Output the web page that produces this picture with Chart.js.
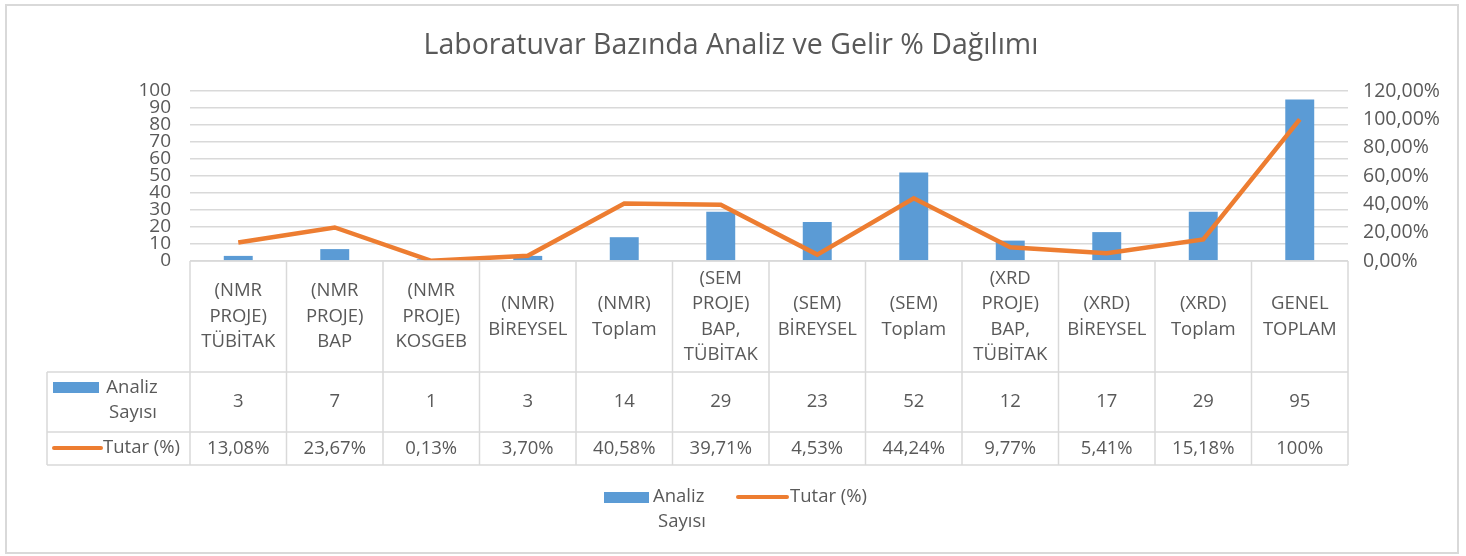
<!DOCTYPE html>
<html>
<head>
<meta charset="utf-8">
<script src="https://cdn.jsdelivr.net/npm/chart.js@4"></script>
<style>
  body { margin: 0; background: #fff; }
</style>
</head>
<body>
<canvas id="myChart" width="1466" height="556"></canvas>
<script>
// Chart data
const categories = [
  ['(NMR', 'PROJE)', 'TÜBİTAK'],
  ['(NMR', 'PROJE)', 'BAP'],
  ['(NMR', 'PROJE)', 'KOSGEB'],
  ['(NMR)', 'BİREYSEL'],
  ['(NMR)', 'Toplam'],
  ['(SEM', 'PROJE)', 'BAP,', 'TÜBİTAK'],
  ['(SEM)', 'BİREYSEL'],
  ['(SEM)', 'Toplam'],
  ['(XRD', 'PROJE)', 'BAP,', 'TÜBİTAK'],
  ['(XRD)', 'BİREYSEL'],
  ['(XRD)', 'Toplam'],
  ['GENEL', 'TOPLAM']
];
const analizSayisi = [3, 7, 1, 3, 14, 29, 23, 52, 12, 17, 29, 95];
const tutarYuzde = [13.08, 23.67, 0.13, 3.70, 40.58, 39.71, 4.53, 44.24, 9.77, 5.41, 15.18, 100];
const tutarLabels = ['13,08%', '23,67%', '0,13%', '3,70%', '40,58%', '39,71%', '4,53%', '44,24%', '9,77%', '5,41%', '15,18%', '100%'];
const leftTicks = { min: 0, max: 100, step: 10 };
const rightTicks = { min: 0, max: 120, step: 20 };

const chartTitle = 'Laboratuvar Bazında Analiz ve Gelir % Dağılımı';
const BLUE = '#5b9bd5';
const ORANGE = '#ed7d31';
const TEXT = '#595959';
const GRID = '#d9d9d9';
const FONT = '"Open Sans", sans-serif';

// Draws title, outer frame, data table and legend
const tablePlugin = {
  id: 'dataTable',
  beforeDraw(chart) {
    const ctx = chart.ctx;
    ctx.save();
    ctx.fillStyle = '#fff';
    ctx.fillRect(0, 0, chart.width, chart.height);
    ctx.strokeStyle = GRID;
    ctx.lineWidth = 2;
    ctx.strokeRect(6, 5, 1452, 548);
    ctx.restore();
  },
  afterDraw(chart) {
    const ctx = chart.ctx;
    const area = chart.chartArea;
    const n = categories.length;
    const colW = (area.right - area.left) / n;
    const top = area.bottom;
    const headBottom = top + 111;
    const row1Bottom = headBottom + 60;
    const row2Bottom = row1Bottom + 33;
    const tableLeft = 47;

    ctx.save();
    // title
    ctx.fillStyle = TEXT;
    ctx.font = '28.5px ' + FONT;
    ctx.textAlign = 'center';
    ctx.textBaseline = 'middle';
    ctx.fillText(chartTitle, 731, 46);

    // table lines
    ctx.strokeStyle = GRID;
    ctx.lineWidth = 1.5;
    ctx.beginPath();
    ctx.moveTo(area.left, top); ctx.lineTo(area.right, top);
    ctx.moveTo(tableLeft, headBottom); ctx.lineTo(area.right, headBottom);
    ctx.moveTo(tableLeft, row1Bottom); ctx.lineTo(area.right, row1Bottom);
    ctx.moveTo(tableLeft, row2Bottom); ctx.lineTo(area.right, row2Bottom);
    ctx.moveTo(tableLeft, headBottom); ctx.lineTo(tableLeft, row2Bottom);
    for (let i = 0; i <= n; i++) {
      const x = area.left + i * colW;
      ctx.moveTo(x, top); ctx.lineTo(x, row2Bottom);
    }
    ctx.stroke();

    // header + values
    ctx.fillStyle = TEXT;
    ctx.font = '18.5px ' + FONT;
    const lineH = 25.5;
    const headMid = (top + headBottom) / 2;
    categories.forEach((lines, i) => {
      const cx = chart.scales.x.getPixelForValue(i);
      const y0 = headMid - (lines.length - 1) * lineH / 2;
      lines.forEach((t, j) => ctx.fillText(t, cx, y0 + j * lineH));
      ctx.fillText(String(analizSayisi[i]), cx, (headBottom + row1Bottom) / 2);
      ctx.fillText(tutarLabels[i], cx, (row1Bottom + row2Bottom) / 2);
    });

    // row labels with swatches
    ctx.fillStyle = BLUE;
    ctx.fillRect(53, 382, 46, 11);
    ctx.fillStyle = TEXT;
    ctx.fillText('Analiz', 132, 388);
    ctx.fillText('Sayısı', 133, 413);
    ctx.strokeStyle = ORANGE;
    ctx.lineWidth = 4;
    ctx.lineCap = 'round';
    ctx.beginPath();
    ctx.moveTo(54, 448); ctx.lineTo(101, 448);
    ctx.stroke();
    ctx.textAlign = 'left';
    ctx.fillText('Tutar (%)', 103, 448);

    // legend
    ctx.fillStyle = BLUE;
    ctx.fillRect(604, 492, 45, 11);
    ctx.fillStyle = TEXT;
    ctx.fillText('Analiz', 653, 497);
    ctx.textAlign = 'center';
    ctx.fillText('Sayısı', 682, 522);
    ctx.beginPath();
    ctx.moveTo(738, 497); ctx.lineTo(787, 497);
    ctx.stroke();
    ctx.textAlign = 'left';
    ctx.fillText('Tutar (%)', 790, 497);
    ctx.restore();
  }
};

const canvas = document.getElementById('myChart');

const chartData = {
  labels: categories,
  datasets: [
    {
      type: 'line',
      label: 'Tutar (%)',
      data: tutarYuzde,
      borderColor: ORANGE,
      borderWidth: 4.5,
      pointRadius: 0,
      tension: 0,
      yAxisID: 'y1',
      order: 0
    },
    {
      type: 'bar',
      label: 'Analiz Sayısı',
      data: analizSayisi,
      backgroundColor: BLUE,
      barPercentage: 1,
      categoryPercentage: 0.3,
      yAxisID: 'y',
      order: 1
    }
  ]
};

const chartOptions = {
  responsive: false,
  animation: false,
  layout: { padding: { top: 91, bottom: 295, left: 0, right: 0 } },
  plugins: {
    legend: { display: false },
    title: { display: false },
    tooltip: { enabled: false }
  },
  scales: {
    x: {
      ticks: { display: false },
      grid: { display: false, drawTicks: false },
      border: { display: false }
    },
    y: {
      position: 'left',
      min: leftTicks.min,
      max: leftTicks.max,
      ticks: {
        stepSize: leftTicks.step,
        autoSkip: false,
        color: TEXT,
        padding: 19,
        font: { family: FONT, size: 19, lineHeight: 1 }
      },
      grid: { color: GRID, lineWidth: 1.5, drawTicks: false },
      border: { display: false },
      afterFit(scale) { scale.width = 190; }
    },
    y1: {
      position: 'right',
      min: rightTicks.min,
      max: rightTicks.max,
      ticks: {
        stepSize: rightTicks.step,
        autoSkip: false,
        color: TEXT,
        padding: 15,
        font: { family: FONT, size: 19.5 },
        callback: v => v.toFixed(2).replace('.', ',') + '%'
      },
      grid: { display: false, drawTicks: false },
      border: { display: false },
      afterFit(scale) { scale.width = 118; }
    }
  }
};

new Chart(canvas, {
  data: chartData,
  options: chartOptions,
  plugins: [tablePlugin]
});
</script>
</body>
</html>
